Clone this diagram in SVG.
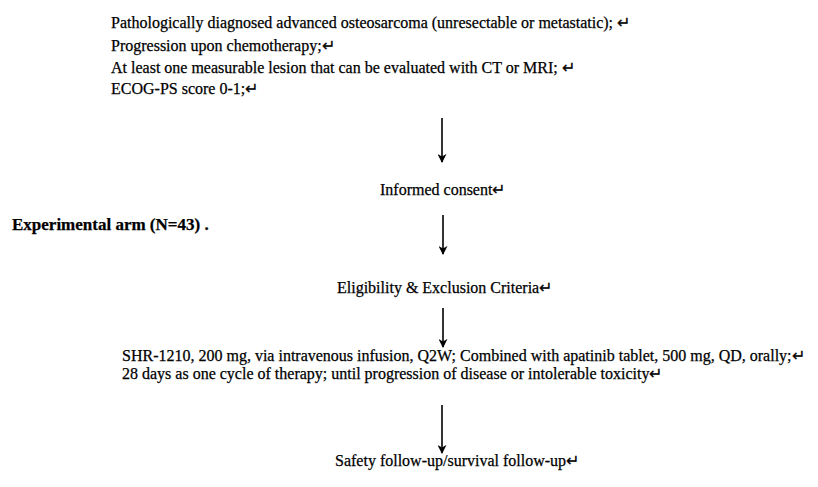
<svg xmlns="http://www.w3.org/2000/svg" width="818" height="487" viewBox="0 0 818 487">
<style>
text{font-family:"Liberation Serif","Times New Roman",serif;font-size:16px;fill:#000;stroke:#000;stroke-width:0.25}
.b{font-weight:bold;font-size:17px}
.conn line{stroke:#000;stroke-width:1.6}
</style>
<defs>
<marker id="ah" viewBox="0 0 10 10" refX="9" refY="5" markerWidth="9" markerHeight="9" orient="auto" markerUnits="userSpaceOnUse">
<path d="M0,0 L10,5 L0,10 L3,5 Z" fill="#000"/>
</marker>
</defs>
<rect width="818" height="487" fill="#fff"/>
<g id="criteria">
<text x="111" y="28">Pathologically diagnosed advanced osteosarcoma (unresectable or metastatic);  ↵</text>
<text x="111" y="51">Progression upon chemotherapy;↵</text>
<text x="111" y="73">At least one measurable lesion that can be evaluated with CT or MRI;  ↵</text>
<text x="111" y="94">ECOG-PS score 0-1;↵</text>
</g>
<g id="consent"><text x="380" y="195">Informed consent↵</text></g>
<g id="arm"><text class="b" x="12" y="230">Experimental arm (N=43) .</text></g>
<g id="eligibility"><text x="337" y="293">Eligibility &amp; Exclusion Criteria↵</text></g>
<g id="treatment">
<text x="122" y="361">SHR-1210, 200 mg, via intravenous infusion, Q2W; Combined with apatinib tablet, 500 mg, QD, orally;↵</text>
<text x="122" y="379">28 days as one cycle of therapy; until progression of disease or intolerable toxicity↵</text>
</g>
<g id="followup"><text x="335" y="466">Safety follow-up/survival follow-up↵</text></g>
<g class="conn" id="connectors">
<line x1="442" y1="118" x2="442" y2="162" marker-end="url(#ah)"/>
<line x1="443" y1="215" x2="443" y2="254" marker-end="url(#ah)"/>
<line x1="443" y1="308" x2="443" y2="347" marker-end="url(#ah)"/>
<line x1="442" y1="405" x2="442" y2="453" marker-end="url(#ah)"/>
</g>
</svg>
